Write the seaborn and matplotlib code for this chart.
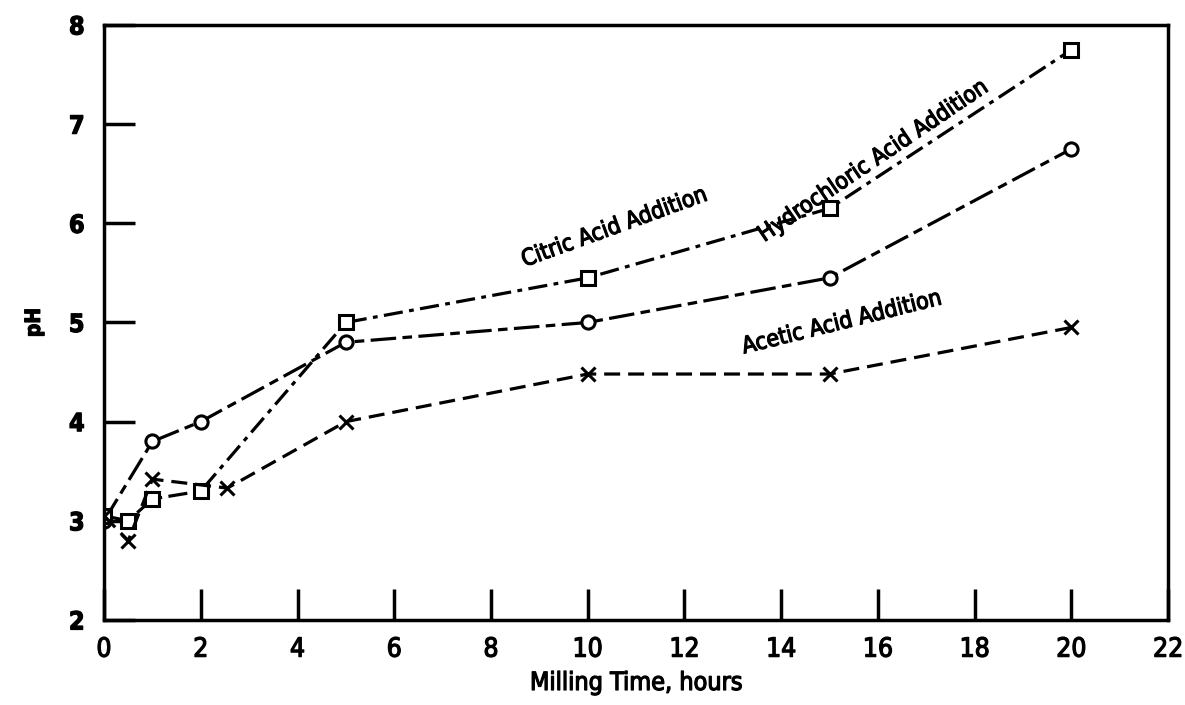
import matplotlib
matplotlib.use("Agg")
import matplotlib.pyplot as plt
import matplotlib.patheffects as pe
import seaborn as sns
import pandas as pd

# Data
hcl_time = [0, 1, 2, 5, 10, 15, 20]
hcl_ph = [3.0, 3.8, 4.0, 4.8, 5.0, 5.45, 6.75]

citric_time = [0, 0.5, 1, 2, 5, 10, 15, 20]
citric_ph = [3.05, 3.0, 3.22, 3.3, 5.0, 5.45, 6.15, 7.75]

acetic_time = [0, 0.5, 1, 2.55, 5, 10, 15, 20]
acetic_ph = [3.05, 2.8, 3.42, 3.33, 4.0, 4.48, 4.48, 4.95]

x_ticks = [0, 2, 4, 6, 8, 10, 12, 14, 16, 18, 20, 22]
y_ticks = [2, 3, 4, 5, 6, 7, 8]

sns.set_theme(style="white")
plt.rcParams['font.family'] = ['DejaVu Sans']
plt.rcParams['font.stretch'] = 'condensed'
plt.rcParams['text.color'] = 'black'
plt.rcParams['axes.labelcolor'] = 'black'

fig = plt.figure(figsize=(11.85, 7.05), dpi=100)
ax = fig.add_axes([0.0878, 0.1206, 0.898, 0.844])

series = [
    (hcl_time, hcl_ph, 'o', (0, (8, 2, 3, 2))),
    (citric_time, citric_ph, 's', (0, (6, 2, 1.5, 2))),
    (acetic_time, acetic_ph, 'x', (0, (5, 2.5))),
]
for t, p, m, ls in series:
    df = pd.DataFrame({"t": t, "p": p})
    sns.lineplot(data=df, x="t", y="p", ax=ax, color='black', linewidth=2.3,
                 linestyle=ls, marker=m, markersize=9.5,
                 markerfacecolor='white', markeredgecolor='black',
                 markeredgewidth=2.2, sort=False, estimator=None)

ax.set_xlim(0, 22)
ax.set_ylim(2, 8)
ax.set_xticks(x_ticks)
ax.set_yticks(y_ticks)
ax.set_xticklabels([str(v) for v in x_ticks], fontsize=19)
ax.set_yticklabels([str(v) for v in y_ticks], fontsize=18, fontweight='bold')
ax.tick_params(axis='both', direction='in', length=22, width=2.5, colors='black',
               bottom=True, left=True, top=False, right=False)
ax.tick_params(axis='x', pad=12)
ax.tick_params(axis='y', pad=14)
for s in ax.spines.values():
    s.set_color('black')
    s.set_linewidth(2.5)

thick = [pe.withStroke(linewidth=0.9, foreground='black')]
for lbl in ax.get_xticklabels() + ax.get_yticklabels():
    lbl.set_path_effects(thick)

ax.set_xlabel("Milling Time, hours", fontsize=18, labelpad=6, path_effects=thick)
ax.set_ylabel("pH", fontsize=15, fontweight='bold', labelpad=18, path_effects=thick)

ax.text(10.55, 5.96, "Citric Acid Addition", fontsize=16.5, rotation=20,
        ha='center', va='center', path_effects=thick)
ax.text(15.9, 6.63, "Hydrochloric Acid Addition", fontsize=16.5, rotation=34,
        ha='center', va='center', path_effects=thick)
ax.text(15.25, 5.0, "Acetic Acid Addition", fontsize=16.5, rotation=14,
        ha='center', va='center', path_effects=thick)

fig.savefig("out.png", dpi=100)
